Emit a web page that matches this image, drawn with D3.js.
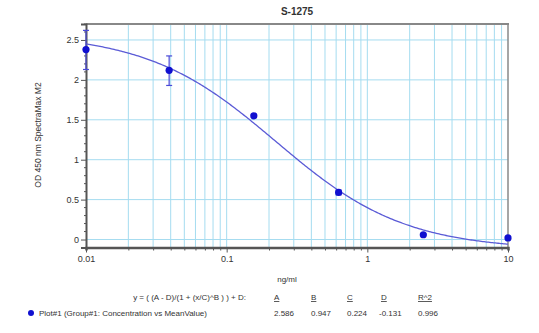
<!DOCTYPE html>
<html>
<head>
<meta charset="utf-8">
<script src="https://cdn.jsdelivr.net/npm/d3@7"></script>
<style>
  html, body { margin: 0; padding: 0; background: #fff; }
  svg { display: block; font-family: "Liberation Sans", Arial, sans-serif; }
</style>
</head>
<body>
<svg id="chart" width="539" height="333"></svg>
<script>
// Standard curve samples: concentration (ng/ml) vs mean OD
const concentrations = [0.01, 0.039, 0.156, 0.625, 2.5, 10];
const meanOD = [2.38, 2.12, 1.55, 0.59, 0.06, 0.02];
const errLow = [2.13, 1.93, 1.53, 0.56, 0.05, 0.01];
const errHigh = [2.62, 2.30, 1.57, 0.62, 0.07, 0.03];

// 4-parameter logistic fit
const fitNames = ["A", "B", "C", "D", "R^2"];
const fitValues = ["2.586", "0.947", "0.224", "-0.131", "0.996"];
const fitA = 2.586, fitB = 0.947, fitC = 0.224, fitD = -0.131;

const yTicks = [0, 0.5, 1, 1.5, 2, 2.5];
const xTickLabels = [0.01, 0.1, 1, 10];

const svg = d3.select("#chart");
const plotL = 86, plotR = 508, plotT = 24, plotB = 247.5;

const x = d3.scaleLog().domain([0.01, 10]).range([plotL, plotR]);
const y = d3.scaleLinear().domain([-0.1, 2.7]).range([plotB, plotT]);

const gridColor = "#a5dcf0";
const axisColor = "#555";

// vertical grid at every decade subdivision
const xMinor = [];
for (let e = -2; e < 1; e++) {
  for (let m = 1; m <= 9; m++) xMinor.push(+(m * Math.pow(10, e)).toPrecision(3));
}
xMinor.push(10);

svg.append("g").selectAll("line").data(xMinor.filter(v => v > 0.01 && v < 10)).join("line")
  .attr("x1", d => x(d)).attr("x2", d => x(d))
  .attr("y1", plotT).attr("y2", plotB)
  .attr("stroke", gridColor).attr("stroke-width", 1);

svg.append("g").selectAll("line").data(yTicks).join("line")
  .attr("x1", plotL).attr("x2", plotR)
  .attr("y1", d => y(d)).attr("y2", d => y(d))
  .attr("stroke", gridColor).attr("stroke-width", 1);

// frame: top and right edges
svg.append("line").attr("x1", plotL).attr("x2", plotR + 1).attr("y1", plotT).attr("y2", plotT)
  .attr("stroke", "#888").attr("stroke-width", 2);
svg.append("line").attr("x1", plotR).attr("x2", plotR).attr("y1", plotT).attr("y2", plotB)
  .attr("stroke", "#888").attr("stroke-width", 1.5);

// y axis
const yAxis = d3.axisLeft(y).tickValues(yTicks).tickSize(5).tickPadding(2)
  .tickFormat(d => d3.format("")(d));
const gy = svg.append("g").attr("transform", `translate(${plotL},0)`).call(yAxis);
gy.select(".domain").attr("stroke", axisColor).attr("stroke-width", 2);
gy.selectAll(".tick line").attr("stroke", axisColor);
gy.selectAll("text").attr("fill", "#333").style("font-size", "9px");
// minor y ticks
const yMinor = d3.range(-0.1, 2.71, 0.1).map(v => +v.toFixed(2)).filter(v => !yTicks.includes(v));
gy.append("g").selectAll("line").data(yMinor).join("line")
  .attr("x1", -2).attr("x2", 0).attr("y1", d => y(d)).attr("y2", d => y(d))
  .attr("stroke", axisColor);

// x axis
const xAxis = d3.axisBottom(x).tickValues(xMinor).tickSize(3).tickPadding(5)
  .tickFormat(d => xTickLabels.includes(d) ? d3.format("")(d) : "");
const gx = svg.append("g").attr("transform", `translate(0,${plotB})`).call(xAxis);
gx.select(".domain").attr("stroke", axisColor).attr("stroke-width", 2.5);
gx.selectAll(".tick line").attr("stroke", axisColor)
  .attr("y2", d => xTickLabels.includes(d) ? 5 : 3);
gx.selectAll("text").attr("fill", "#333").style("font-size", "9px");

// fitted curve
const curvePts = d3.range(0, 301).map(i => {
  const c = Math.pow(10, -2 + 3 * i / 300);
  return [c, (fitA - fitD) / (1 + Math.pow(c / fitC, fitB)) + fitD];
});
svg.append("path").datum(curvePts)
  .attr("fill", "none").attr("stroke", "#5b5bd6").attr("stroke-width", 1.3)
  .attr("d", d3.line().x(d => x(d[0])).y(d => y(d[1])));

// error bars
const ptColor = "#1010d0";
const eb = svg.append("g").selectAll("g").data(concentrations).join("g");
eb.append("line")
  .attr("x1", d => x(d)).attr("x2", d => x(d))
  .attr("y1", (d, i) => y(errLow[i])).attr("y2", (d, i) => y(errHigh[i]))
  .attr("stroke", "#4a4ad8").attr("stroke-width", 1.2);
eb.append("line")
  .attr("x1", d => x(d) - 3).attr("x2", d => x(d) + 3)
  .attr("y1", (d, i) => y(errLow[i])).attr("y2", (d, i) => y(errLow[i]))
  .attr("stroke", "#4a4ad8").attr("stroke-width", 1.2);
eb.append("line")
  .attr("x1", d => x(d) - 3).attr("x2", d => x(d) + 3)
  .attr("y1", (d, i) => y(errHigh[i])).attr("y2", (d, i) => y(errHigh[i]))
  .attr("stroke", "#4a4ad8").attr("stroke-width", 1.2);

// points
svg.append("g").selectAll("circle").data(concentrations).join("circle")
  .attr("cx", d => x(d)).attr("cy", (d, i) => y(meanOD[i]))
  .attr("r", 3.6).attr("fill", ptColor);

// title and axis labels
svg.append("text").attr("x", 297).attr("y", 15).attr("text-anchor", "middle")
  .style("font-size", "10px").style("font-weight", "bold").attr("fill", "#333").text("S-1275");
svg.append("text").attr("transform", "translate(41,135) rotate(-90)").attr("text-anchor", "middle")
  .style("font-size", "8.5px").attr("fill", "#333").text("OD 450 nm SpectraMax M2");
svg.append("text").attr("x", 287).attr("y", 282).attr("text-anchor", "middle")
  .style("font-size", "8px").attr("fill", "#333").text("ng/ml");

// legend / fit table
const leg = svg.append("g").style("font-size", "8px").attr("fill", "#333");
leg.append("text").attr("x", 246).attr("y", 300).attr("text-anchor", "end")
  .text("y = ( (A - D)/(1 + (x/C)^B ) ) + D:");
leg.append("circle").attr("cx", 31).attr("cy", 313).attr("r", 3).attr("fill", ptColor);
leg.append("text").attr("x", 39).attr("y", 316)
  .text("Plot#1 (Group#1: Concentration vs MeanValue)");
const colX = [274, 311, 347, 379, 418];
fitNames.forEach((n, i) => {
  leg.append("text").attr("x", colX[i] + (i === 3 ? 2 : 0)).attr("y", 300)
    .style("text-decoration", "underline").text(n);
  leg.append("text").attr("x", colX[i]).attr("y", 316).text(fitValues[i]);
});
</script>
</body>
</html>
